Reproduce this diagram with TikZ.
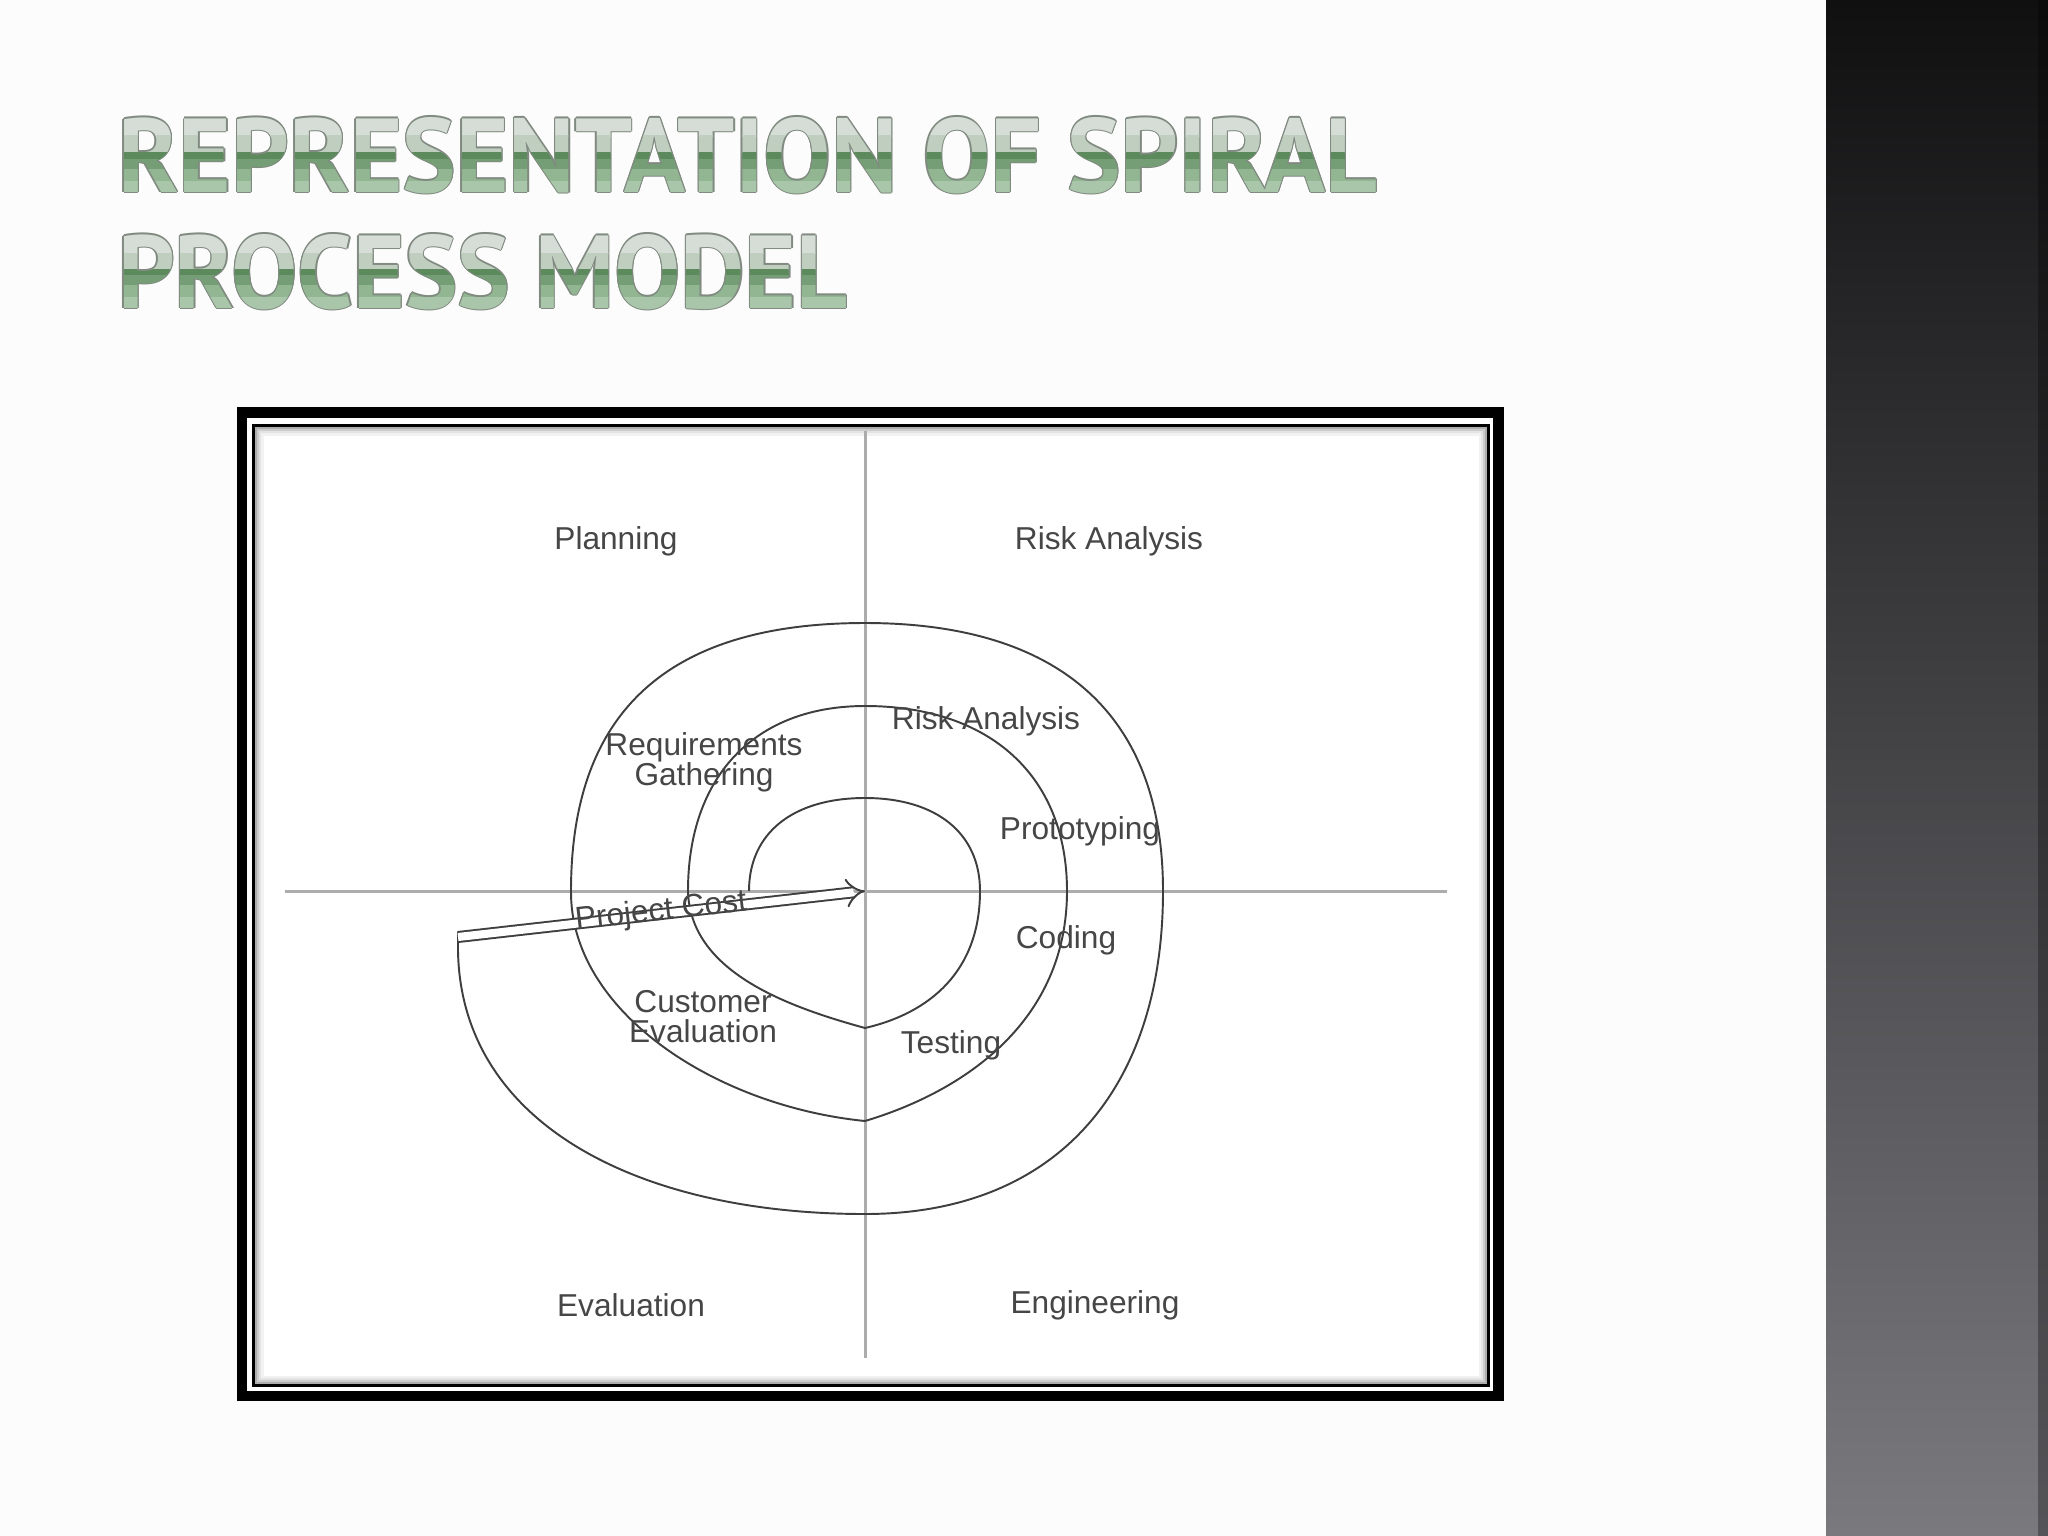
\documentclass[tikz,border=0pt]{standalone}
\usepackage{fontspec}
\usepackage{graphicx}
\setmainfont{Liberation Sans}
\newfontfamily\titlefont{PT Sans}
\usetikzlibrary{arrows.meta}

\definecolor{barTop}{RGB}{16,16,17}
\definecolor{barBottom}{RGB}{122,121,126}
\definecolor{inkgray}{RGB}{62,62,62}
\definecolor{axisgray}{RGB}{172,172,172}
\definecolor{labelgray}{RGB}{70,70,70}
\definecolor{titleedge}{RGB}{128,138,128}
\definecolor{titletop}{RGB}{214,220,214}
\definecolor{titlelight}{RGB}{192,206,192}
\definecolor{titledark}{RGB}{92,138,92}
\definecolor{titlemid}{RGB}{118,158,118}
\definecolor{titlelow}{RGB}{146,182,146}
\definecolor{titlefoot}{RGB}{170,198,170}

% both title lines, in one colour
\newcommand{\spiraltitle}[1]{%
  \node[titletext,text=#1] (titleone) at (117.5,-192)
    {\resizebox{12.58cm}{0.75cm}{REPRESENTATION OF SPIRAL}};
  \node[titletext,text=#1] (titletwo) at (117.5,-308)
    {\resizebox{7.29cm}{0.74cm}{PROCESS MODEL}};}

% one horizontal band of the title, as a fraction of the cap height
\newcommand{\titleband}[3]{%
  \begin{scope}
    \clip (0,-116.6-74.4*#1) rectangle (1800,-117.6-74.4*#2)
          (0,-234-73*#1) rectangle (1800,-235-73*#2);
    \spiraltitle{#3}
  \end{scope}}

\begin{document}
\begin{tikzpicture}[x=0.01cm,y=0.01cm]
  \tikzstyle{titletext}=[anchor=base west,inner sep=0pt,font=\titlefont\bfseries]
  \tikzstyle{lbl}=[inner sep=0pt,align=center,text=labelgray,
                   font=\fontsize{9}{8.5}\selectfont]
  \tikzstyle{axis}=[draw=axisgray,line width=0.85pt]
  \tikzstyle{spiral}=[draw=inkgray,line width=0.55pt]
  \tikzstyle{costarrow}=[draw=inkgray,line width=0.55pt,double,
                         double distance=2.3pt,-{Implies[scale=1.9]}]

  \useasboundingbox (0,0) rectangle (2048,-1536);
  \fill[white!99!black] (0,0) rectangle (2048,-1536);

  % dark side bar
  \shade[top color=barTop,bottom color=barBottom] (1826,0) rectangle (2048,-1536);
  \fill[black,opacity=0.3] (2038,0) rectangle (2048,-1536);

  % title: grey edge, then bands from light to green
  \foreach \a in {0,45,...,315}{
    \begin{scope}[shift={(\a:1.3)}]
      \spiraltitle{titleedge}
    \end{scope}}
  \titleband{-0.1}{0.25}{titletop}
  \titleband{0.25}{0.47}{titlelight}
  \titleband{0.47}{0.56}{titledark}
  \titleband{0.56}{0.7}{titlemid}
  \titleband{0.7}{0.86}{titlelow}
  \titleband{0.86}{1.1}{titlefoot}

  % frame
  \fill[white] (242,-412.5) rectangle (1498.5,-1396);
  \draw[line width=3pt] (242,-412.5) rectangle (1498.5,-1396);
  \draw[line width=0.85pt] (253.5,-425.5) rectangle (1488.7,-1385.8);
  \foreach \i/\c in {3/32,5/20,7/11,9/5}
    \draw[black!\c,line width=0.6pt] (253.5+\i,-425.5-\i) rectangle (1488.7-\i,-1385.8+\i);

  % axes
  \coordinate (centre) at (865,-891);
  \draw[axis] (865,-431) -- (865,-1358);
  \draw[axis] (285,-891) -- (1447,-891);

  % spiral
  \begin{scope}[shift={(centre)}]
    \draw[spiral] (-116,0)
      .. controls (-116,58) and (-72,93) .. (0,93)
      .. controls (71,93) and (115,58) .. (115,0)
      .. controls (115,-80) and (65,-122) .. (0,-137)
      .. controls (-80,-115) and (-175,-80) .. (-177,0)
      .. controls (-177,115) and (-110,185) .. (0,185)
      .. controls (125,185) and (202,115) .. (202,0)
      .. controls (202,-130) and (100,-200) .. (0,-230)
      .. controls (-150,-215) and (-295,-120) .. (-294,0)
      .. controls (-294,190) and (-185,268) .. (0,268)
      .. controls (185,268) and (298,185) .. (298,0)
      .. controls (298,-200) and (190,-323) .. (0,-323)
      .. controls (-230,-323) and (-410,-230) .. (-407,-51)
      -- (-407,-41);
  \end{scope}

  \coordinate (costtail) at (458,-937);
  \draw[costarrow] (costtail) -- (centre);

  % quadrant labels
  \node[lbl] (planning) at (616,-541) {Planning};
  \node[lbl] (riskquad) at (1109,-541) {Risk Analysis};
  \node[lbl] (evalquad) at (631,-1305) {Evaluation};
  \node[lbl] (engquad) at (1095,-1305) {Engineering};

  % phase labels
  \node[lbl] (reqgath) at (704,-762) {Requirements\\Gathering};
  \node[lbl] (riskphase) at (986,-721) {Risk Analysis};
  \node[lbl] (prototyping) at (1080,-831) {Prototyping};
  \node[lbl] (coding) at (1066,-940) {Coding};
  \node[lbl] (testing) at (951,-1045) {Testing};
  \node[lbl] (custeval) at (703,-1017) {Customer\\Evaluation};
  \node[lbl,rotate=6.45] (projcost) at (661,-912) {Project Cost};
\end{tikzpicture}
\end{document}
